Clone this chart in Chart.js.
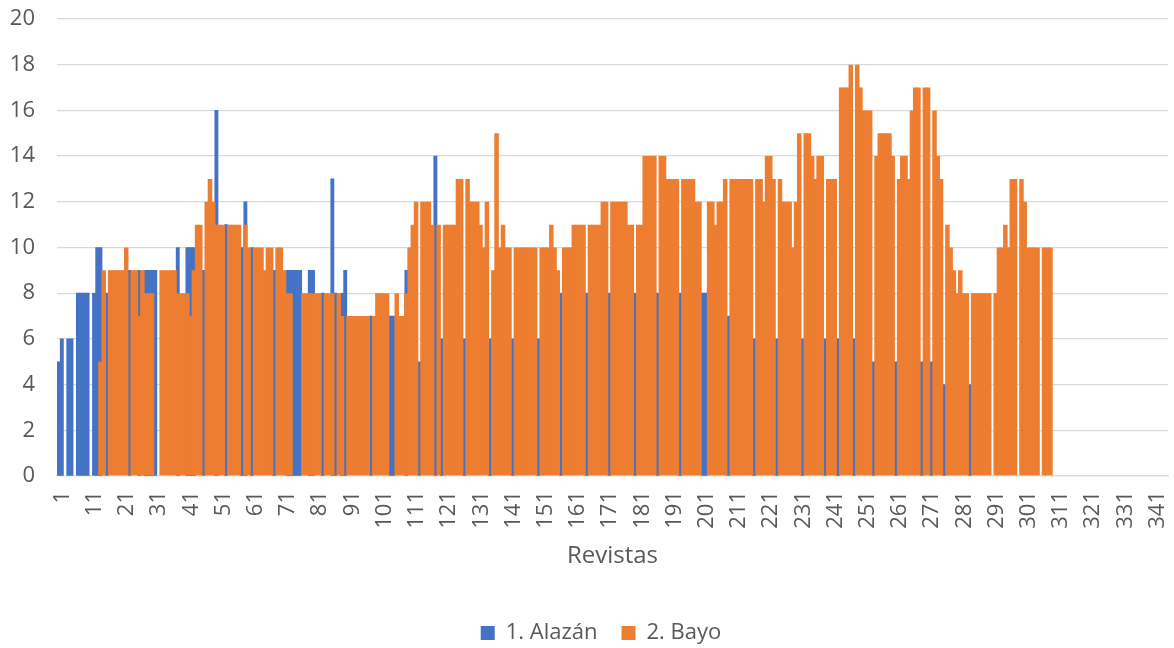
<!DOCTYPE html>
<html>
<head>
<meta charset="utf-8">
<script src="https://cdn.jsdelivr.net/npm/chart.js@4.4.0/dist/chart.umd.min.js"></script>
<style>
  html, body { margin: 0; padding: 0; background: #fff; }
</style>
</head>
<body>
<canvas id="chart" width="1174" height="648"></canvas>
<script>
// Revistas 1..345 (data only up to 309)
const categoryCount = 345;
const categories = Array.from({length: categoryCount}, (_, i) => String(i + 1));

// 1. Alazán
const alazan = [
    5, 6, null, 6, 6, null, 8, 8, 8, 8,
    null, 8, 10, 10, null, 8, null, null, null, null,
    null, null, 9, null, null, 9, null, 9, 9, 9,
    9, null, null, null, null, null, null, 10, null, null,
    10, 10, 10, null, null, 9, null, null, null, 16,
    null, null, 11, null, null, null, null, 10, 12, null,
    10, null, null, null, null, null, null, 9, null, null,
    null, 9, 9, 9, 9, 9, null, null, 9, 9,
    null, null, 8, null, null, 13, 8, null, 8, 9,
    null, null, null, null, null, null, null, 7, null, null,
    null, null, null, 7, 7, null, null, null, 9, null,
    null, null, 5, null, null, null, null, 14, null, 6,
    null, null, null, null, null, null, 6, null, null, null,
    null, null, null, null, 6, null, null, null, null, null,
    null, 6, null, null, null, null, null, null, null, 6,
    null, null, null, null, null, null, 8, null, null, null,
    null, null, null, null, 8, null, null, null, null, null,
    null, 8, null, null, null, null, null, null, null, 8,
    null, null, null, null, null, null, 8, null, null, null,
    null, null, null, 8, null, null, null, null, null, null,
    8, 8, null, null, null, null, null, null, 7, null,
    null, null, null, null, null, null, 6, null, null, null,
    null, null, null, 6, null, null, null, null, null, null,
    null, 6, null, null, null, null, null, null, 6, null,
    null, null, 6, null, null, null, null, 6, null, null,
    null, null, null, 5, null, null, null, null, null, null,
    5, null, null, null, null, null, null, null, 5, null,
    null, 5, null, null, null, 4, null, null, null, null,
    null, null, null, 4, null, null, null, null, null, null
];

// 2. Bayo
const bayo = [
    null, null, null, null, null, null, null, null, null, null,
    null, null, null, 5, 9, null, 9, 9, 9, 9,
    9, 10, null, 9, 9, 7, 9, 8, 8, 8,
    null, null, 9, 9, 9, 9, 9, 8, 8, 8,
    8, 7, 9, 11, 11, null, 12, 13, 12, 11,
    11, 11, null, 11, 11, 11, 11, null, 11, 10,
    null, 10, 10, 10, 9, 10, 10, null, 10, 10,
    9, 8, 8, null, null, null, 8, 8, 8, 8,
    8, 8, null, 8, 8, 8, null, 8, 7, null,
    7, 7, 7, 7, 7, 7, 7, null, 7, 8,
    8, 8, 8, null, null, 8, 7, 7, 8, 10,
    11, 12, null, 12, 12, 12, 11, null, 11, null,
    11, 11, 11, 11, 13, 13, null, 13, 12, 12,
    12, 11, 10, 12, null, 9, 15, 10, 11, 10,
    10, null, 10, 10, 10, 10, 10, 10, 10, null,
    10, 10, 10, 11, 10, 9, null, 10, 10, 10,
    11, 11, 11, 11, null, 11, 11, 11, 11, 12,
    12, null, 12, 12, 12, 12, 12, 11, 11, null,
    11, 11, 14, 14, 14, 14, null, 14, 14, 13,
    13, 13, 13, null, 13, 13, 13, 13, 12, 12,
    null, null, 12, 12, 11, 12, 12, 13, null, 13,
    13, 13, 13, 13, 13, 13, null, 13, 13, 12,
    14, 14, 13, null, 13, 12, 12, 12, 10, 12,
    15, null, 15, 15, 14, 13, 14, 14, null, 13,
    13, 13, null, 17, 17, 17, 18, null, 18, 17,
    16, 16, 16, null, 14, 15, 15, 15, 15, 14,
    null, 13, 14, 14, 13, 16, 17, 17, null, 17,
    17, null, 16, 14, 13, null, 11, 10, 9, 8,
    9, 8, 8, null, 8, 8, 8, 8, 8, 8,
    null, 8, 10, 10, 11, 10, 13, 13, null, 13,
    12, 10, 10, 10, 10, null, 10, 10, 10
];

const yTicks = {min: 0, max: 20, step: 2};
const axisTitle = 'Revistas';
const seriesNames = ['1. Alazán', '2. Bayo'];

const textColor = '#595959';
const gridColor = '#D9D9D9';
const fontFamily = "'Open Sans', 'Liberation Sans', sans-serif";
const legendPadding = 24;

// put the legend row where the original has it (padding is only used to space the items)
const legendNudge = {
    id: 'legendNudge',
    afterLayout(chart) {
        const lg = chart.legend;
        lg.left += 17;
        lg.right += 17;
        lg.top = 633 - legendPadding - 11;
        lg.bottom = chart.height; // legend clips to its box
    }
};

const ctx = document.getElementById('chart');

new Chart(ctx, {
    type: 'bar',
    data: {
        labels: categories,
        datasets: [
            {
                label: seriesNames[0],
                data: alazan,
                backgroundColor: '#4472C4',
                grouped: false,
                barPercentage: 1,
                categoryPercentage: 1,
                order: 1
            },
            {
                label: seriesNames[1],
                data: bayo,
                backgroundColor: '#ED7D31',
                grouped: false,
                barPercentage: 1.4,
                categoryPercentage: 1,
                order: 0
            }
        ]
    },
    plugins: [legendNudge],
    options: {
        responsive: false,
        animation: false,
        devicePixelRatio: 1,
        events: [],
        layout: {
            padding: {top: 19, right: 6, bottom: 0, left: 0}
        },
        plugins: {
            tooltip: {enabled: false},
            legend: {
                position: 'bottom',
                maxHeight: 30,
                labels: {
                    color: textColor,
                    font: {family: fontFamily, size: 22},
                    boxWidth: 14,
                    boxHeight: 14,
                    padding: legendPadding,
                    sort: (a, b) => a.datasetIndex - b.datasetIndex
                }
            }
        },
        scales: {
            x: {
                type: 'category',
                offset: true,
                grid: {display: false, drawTicks: false},
                border: {display: true, color: gridColor, width: 1.3},
                ticks: {
                    autoSkip: false,
                    maxRotation: 90,
                    minRotation: 90,
                    padding: 15,
                    labelOffset: 4,
                    color: textColor,
                    font: {family: fontFamily, size: 22},
                    callback: (value, index) => index % 10 === 0 ? categories[index] : ''
                },
                title: {
                    display: true,
                    text: axisTitle,
                    color: textColor,
                    font: {family: fontFamily, size: 24},
                    padding: {top: 0, bottom: 47}
                },
                afterFit: scale => {
                    scale.height = 142;
                    scale.paddingLeft = 0;
                    scale.paddingRight = 0;
                }
            },
            y: {
                min: yTicks.min,
                max: yTicks.max,
                grid: {color: gridColor, lineWidth: 1.3, drawTicks: false},
                border: {display: false},
                ticks: {
                    stepSize: yTicks.step,
                    padding: 22,
                    color: textColor,
                    font: {family: fontFamily, size: 22}
                },
                afterFit: scale => {
                    scale.width = 57;
                    scale.paddingTop = 0;
                    scale.paddingBottom = 0;
                }
            }
        }
    }
});
</script>
</body>
</html>
